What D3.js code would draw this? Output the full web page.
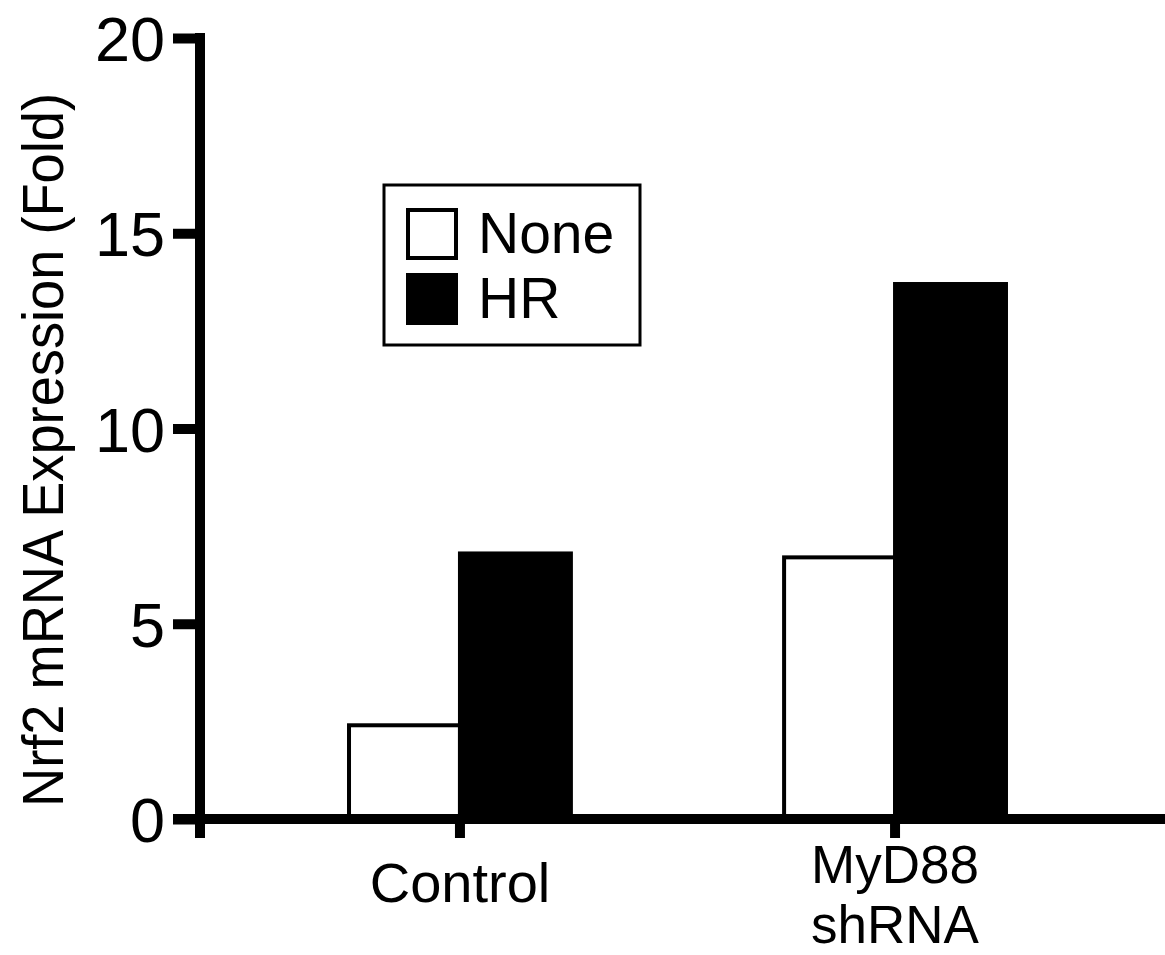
<!DOCTYPE html>
<html>
<head>
<meta charset="utf-8">
<script src="https://cdn.jsdelivr.net/npm/d3@7"></script>
<style>
  body { margin: 0; background: #fff; }
  text { font-family: "Liberation Sans", Arial, sans-serif; fill: #000; }
</style>
</head>
<body>
<div id="viz"></div>
<script>
// Data
var categories = ["Control", "MyD88 shRNA"]
var series = ["None", "HR"]
var noneValues = [2.4, 6.7]
var hrValues = [6.8, 13.7]
var yTicks = [0, 5, 10, 15, 20]

var width = 1165, height = 955
var fills = { None: "#fff", HR: "#000" }

var svg = d3.select("#viz")
    .append("svg")
    .attr("width", width)
    .attr("height", height)

// Scales
var y = d3.scaleLinear().domain([0, 20]).range([819, 38])

var x = d3.scaleBand()
    .domain(categories)
    .range([200, 1155])
    .paddingInner(0.49)
    .paddingOuter(0.3425)

var xSub = d3.scaleBand()
    .domain(series)
    .range([0, x.bandwidth()])

var rows = categories.map((c, i) => ({ cat: c, None: noneValues[i], HR: hrValues[i] }))

// Bars
var groups = svg.append("g")
    .selectAll("g")
    .data(rows)
    .enter()
    .append("g")
    .attr("transform", d => "translate(" + x(d.cat) + ",0)")

groups.selectAll("rect")
    .data(d => series.map(s => ({ key: s, value: d[s] })))
    .enter()
    .append("rect")
    .attr("x", d => xSub(d.key))
    .attr("width", xSub.bandwidth())
    .attr("y", d => y(d.value))
    .attr("height", d => y(0) - y(d.value))
    .style("fill", d => fills[d.key])
    .style("stroke", "#000")
    .style("stroke-width", 4)

// Y axis
var yAxis = svg.append("g")
    .attr("transform", "translate(200,0)")
    .call(d3.axisLeft(y).tickValues(yTicks).tickSize(27).tickPadding(8).tickSizeOuter(0))

yAxis.select(".domain").remove()
yAxis.append("line")
    .attr("x1", 0).attr("x2", 0)
    .attr("y1", y(20) - 5).attr("y2", y(0) + 19)
    .style("stroke", "#000").style("stroke-width", 10)
yAxis.selectAll(".tick line").style("stroke-width", 10)
yAxis.selectAll(".tick text")
    .style("font-size", "63px")
    .attr("dy", "0.36em")

// X axis
var xAxis = svg.append("g")
    .attr("transform", "translate(0," + y(0) + ")")
    .call(d3.axisBottom(x).tickSize(19).tickSizeOuter(0).tickFormat(""))

xAxis.select(".domain").remove()
xAxis.append("line")
    .attr("x1", 173).attr("x2", width)
    .attr("y1", 0).attr("y2", 0)
    .style("stroke", "#000").style("stroke-width", 10)
xAxis.selectAll(".tick line").style("stroke-width", 10)

// Category labels (two lines for the MyD88 one)
var catLabels = [["Control"], ["MyD88", "shRNA"]]
xAxis.selectAll(".catlabel")
    .data(categories)
    .enter()
    .append("text")
    .attr("class", "catlabel")
    .attr("text-anchor", "middle")
    .attr("x", d => x(d) + x.bandwidth() / 2)
    .attr("y", (d, i) => catLabels[i].length > 1 ? 64 : 83)
    .style("font-size", (d, i) => catLabels[i].length > 1 ? "53px" : "56px")
    .each(function(d, i) {
        var t = d3.select(this)
        catLabels[i].forEach((line, j) => {
            t.append("tspan")
                .attr("x", x(d) + x.bandwidth() / 2)
                .attr("dy", j === 0 ? 0 : 60)
                .text(line)
        })
    })

// Y axis title
svg.append("text")
    .attr("transform", "translate(63,450) rotate(-90)")
    .attr("text-anchor", "middle")
    .attr("textLength", 714)
    .attr("lengthAdjust", "spacingAndGlyphs")
    .style("font-size", "58px")
    .text("Nrf2 mRNA Expression (Fold)")

// Legend
var legend = svg.append("g").attr("transform", "translate(384,185)")
legend.append("rect")
    .attr("width", 256).attr("height", 160)
    .style("fill", "#fff").style("stroke", "#000").style("stroke-width", 3)

var items = legend.selectAll(".item")
    .data(series)
    .enter()
    .append("g")
    .attr("transform", (d, i) => "translate(24," + (25 + i * 65) + ")")

items.append("rect")
    .attr("width", 48).attr("height", 48)
    .style("fill", d => fills[d])
    .style("stroke", "#000").style("stroke-width", 4)

items.append("text")
    .attr("x", 70)
    .attr("y", 43)
    .style("font-size", "57px")
    .text(d => d)
</script>
</body>
</html>
